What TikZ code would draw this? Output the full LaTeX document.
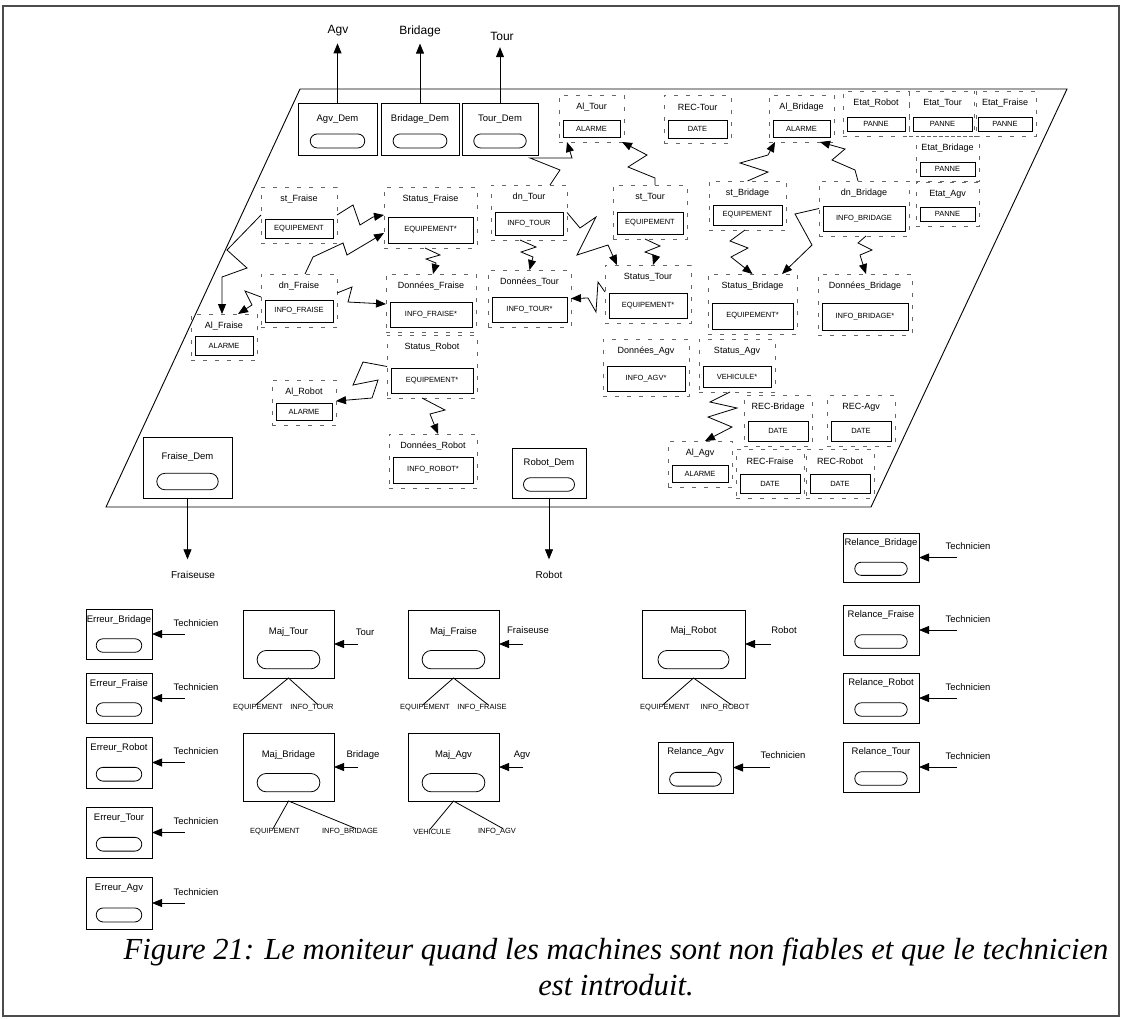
\documentclass[tikz,border=0pt]{standalone}
\usepackage{fontspec}
\setmainfont{Liberation Sans}
\newfontfamily\capfont{Liberation Serif}
\usetikzlibrary{arrows.meta,shapes.misc}

% object with a dashed frame, a title and a typed inner box
% #1 name, #2 title, #3 type, #4-#7 inner box (x1,y1,x2,y2), #8 title y
\newcommand{\objnode}[8]{%
  \pgfmathsetmacro{\ocx}{(#4+#6)/2}%
  \pgfmathsetmacro{\ocy}{(#5+#7)/2}%
  \pgfmathsetmacro{\ofy}{(#8-12+#7+5)/2}%
  \pgfmathsetmacro{\ofw}{#6-#4+8}%
  \pgfmathsetmacro{\ofh}{#7+5-#8+12}%
  \pgfmathsetmacro{\oiw}{#6-#4}%
  \pgfmathsetmacro{\oih}{#7-#5}%
  \node[frm, minimum width=\ofw pt, minimum height=\ofh pt] (#1) at (\ocx,\ofy) {};
  \node[ibox, minimum width=\oiw pt, minimum height=\oih pt] (#1-i) at (\ocx,\ocy) {#3};
  \node[otitle] (#1-t) at (\ocx,#8) {#2};
}

% process box with a title and a rounded slot
% #1 name, #2 title, #3-#6 box (x1,y1,x2,y2), #7 title offset from top
\newcommand{\procbox}[7]{%
  \pgfmathsetmacro{\pcx}{(#3+#5)/2}%
  \pgfmathsetmacro{\pcy}{(#4+#6)/2}%
  \pgfmathsetmacro{\pw}{#5-#3}%
  \pgfmathsetmacro{\ph}{#6-#4}%
  \pgfmathsetmacro{\ppw}{0.69*(#5-#3)}%
  \pgfmathsetmacro{\pph}{0.27*(#6-#4)}%
  \pgfmathsetmacro{\ppy}{#4+0.73*(#6-#4)}%
  \node[pbox, minimum width=\pw pt, minimum height=\ph pt] (#1) at (\pcx,\pcy) {};
  \node[ptitle] (#1-t) at (\pcx,#4+#7) {#2};
  \node[pill, minimum width=\ppw pt, minimum height=\pph pt] (#1-p) at (\pcx,\ppy) {};
}

% incoming message arrow on the right side of a box
% #1 box, #2 arrow length, #3 label, #4 #5 label offset from the arrow start
\newcommand{\inarrow}[5]{%
  \coordinate (#1-in) at ([xshift=#2pt]#1.east);
  \node[lbl] (#1-l) at ([xshift=#4pt,yshift=#5pt]#1-in) {#3};
  \draw[arr] (#1-in) -- (#1.east);
}

\begin{document}
\begin{tikzpicture}[x=1pt,y=-1pt,
  every node/.style={inner sep=0pt, outer sep=0pt},
  frm/.style={draw=black!60, line width=0.6pt, dash pattern=on 4pt off 8pt},
  ibox/.style={draw, line width=0.8pt, font=\fontsize{7.5}{8}\selectfont},
  otitle/.style={font=\fontsize{9}{10}\selectfont},
  pbox/.style={draw, line width=0.8pt},
  ptitle/.style={font=\fontsize{9.5}{11}\selectfont},
  pill/.style={draw, rounded rectangle, line width=0.8pt},
  lbl/.style={font=\fontsize{9.5}{11}\selectfont},
  big/.style={font=\fontsize{12}{14}\selectfont, outer sep=7pt},
  mid/.style={font=\fontsize{10}{12}\selectfont, outer sep=12pt},
  small/.style={font=\fontsize{7.5}{8}\selectfont},
  arr/.style={line width=0.8pt, -{Triangle[length=10pt,width=8pt]}},
  zz/.style={line width=0.8pt, -{Triangle[length=10pt,width=8pt]}},
]
\useasboundingbox (0,0) rectangle (1131,1018);
\draw[line width=1.2pt, black!70] (3,6) rectangle (1119,1016);

% the monitor plane
\draw[line width=0.9pt] (106,507) -- (300,89) -- (1067,89) -- (871,507) -- cycle;

% demand boxes and their outputs
\procbox{AgvDem}{Agv\_Dem}{298}{103}{377}{155}{16}
\procbox{BridageDem}{Bridage\_Dem}{381}{103}{459}{155}{16}
\procbox{TourDem}{Tour\_Dem}{462}{103}{538}{155}{16}
\procbox{FraiseDem}{Fraise\_Dem}{143}{437}{232}{498}{20}
\procbox{RobotDem}{Robot\_Dem}{512}{448}{586}{498}{15}

\node[big] (lAgv) at (338,31) {Agv};
\node[big] (lBridage) at (420,31) {Bridage};
\node[big] (lTour) at (502,36) {Tour};
\draw[arr] (AgvDem.north) -- (AgvDem.north |- lAgv.south);
\draw[arr] (BridageDem.north) -- (BridageDem.north |- lBridage.south);
\draw[arr] (TourDem.north) -- (TourDem.north |- lTour.south);

\node[mid] (lFraiseuse) at (193,575) {Fraiseuse};
\node[mid] (lRobot) at (549,575) {Robot};
\draw[arr] (FraiseDem.south) -- (FraiseDem.south |- lFraiseuse.north);
\draw[arr] (RobotDem.south) -- (RobotDem.south |- lRobot.north);

% objects of the monitor
\objnode{AlTour}{Al\_Tour}{ALARME}{563}{120}{620}{137}{107}
\objnode{RecTour}{REC-Tour}{DATE}{668}{120}{727}{138}{107}
\objnode{AlBridage}{Al\_Bridage}{ALARME}{773}{120}{830}{137}{107}
\objnode{EtatRobot}{Etat\_Robot}{PANNE}{847}{117}{905}{131}{103}
\objnode{EtatTour}{Etat\_Tour}{PANNE}{913}{117}{972}{131}{103}
\objnode{EtatFraise}{Etat\_Fraise}{PANNE}{978}{117}{1032}{131}{103}
\objnode{EtatBridage}{Etat\_Bridage}{PANNE}{920}{162}{975}{176}{148}
\objnode{EtatAgv}{Etat\_Agv}{PANNE}{920}{207}{975}{221}{194}

\objnode{stFraise}{st\_Fraise}{EQUIPEMENT}{265}{219}{333}{238}{199}
\objnode{StatusFraise}{Status\_Fraise}{EQUIPEMENT*}{388}{217}{473}{243}{199}
\objnode{dnTour}{dn\_Tour}{INFO\_TOUR}{495}{212}{563}{235}{197}
\objnode{stTour}{st\_Tour}{EQUIPEMENT}{617}{212}{683}{234}{197}
\objnode{stBridage}{st\_Bridage}{EQUIPEMENT}{713}{205}{782}{225}{193}
\objnode{dnBridage}{dn\_Bridage}{INFO\_BRIDAGE}{823}{206}{905}{231}{193}

\objnode{dnFraise}{dn\_Fraise}{INFO\_FRAISE}{265}{300}{333}{322}{286}
\objnode{DonFraise}{Données\_Fraise}{INFO\_FRAISE*}{390}{302}{472}{327}{286}
\objnode{DonTour}{Données\_Tour}{INFO\_TOUR*}{492}{297}{567}{322}{282}
\objnode{StatusTour}{Status\_Tour}{EQUIPEMENT*}{609}{293}{687}{318}{277}
\objnode{StatusBridage}{Status\_Bridage}{EQUIPEMENT*}{712}{303}{793}{329}{286}
\objnode{DonBridage}{Données\_Bridage}{INFO\_BRIDAGE*}{822}{303}{908}{330}{286}
\objnode{AlFraise}{Al\_Fraise}{ALARME}{195}{336}{253}{355}{326}

\objnode{StatusRobot}{Status\_Robot}{EQUIPEMENT*}{391}{368}{473}{393}{347}
\objnode{DonAgv}{Données\_Agv}{INFO\_AGV*}{607}{366}{685}{391}{351}
\objnode{StatusAgv}{Status\_Agv}{VEHICULE*}{703}{366}{771}{387}{351}
\objnode{AlRobot}{Al\_Robot}{ALARME}{276}{403}{332}{420}{392}
\objnode{RecBridage}{REC-Bridage}{DATE}{748}{421}{808}{441}{407}
\objnode{RecAgv}{REC-Agv}{DATE}{831}{421}{891}{441}{407}
\objnode{DonRobot}{Données\_Robot}{INFO\_ROBOT*}{393}{457}{473}{483}{446}
\objnode{AlAgv}{Al\_Agv}{ALARME}{672}{465}{728}{482}{453}
\objnode{RecFraise}{REC-Fraise}{DATE}{740}{474}{800}{493}{461}
\objnode{RecRobot}{REC-Robot}{DATE}{810}{474}{870}{493}{461}

% signal connectors between objects
\draw[zz] ([xshift=21pt]dnTour.north) -- (560,170) -- (530,158) -- (572,158) -- ([xshift=-24.5pt]AlTour.south);
\draw[zz] ([xshift=5pt]stTour.north) -- (655,178) -- (628,167) -- (647,155) -- ([xshift=30.5pt]AlTour.south);
\draw[zz] (stBridage.north) -- (768,172) -- (740,163) -- (768,155) -- ([xshift=-26.5pt]AlBridage.south);
\draw[zz] ([xshift=-6pt]dnBridage.north) -- (855,170) -- (832,160) -- (845,149) -- ([xshift=18.5pt]AlBridage.south);
\draw[zz] (stFraise.east) -- (353,205) -- (360,225) -- (373,217) -- ([yshift=2.5pt]StatusFraise.west);
\draw[zz] ([xshift=6pt]dnFraise.north) -- (313,257) -- (343,243) -- (347,255) -- ([yshift=-15.5pt]StatusFraise.west);
\draw[zz] ([yshift=7.5pt]dnFraise.east) -- (352,287) -- (348,302) -- ([yshift=-1pt]DonFraise.west);
\draw[zz] ([xshift=-5.5pt]StatusFraise.south) -- (440,255) -- (426,259) -- (436,263) -- ([xshift=2pt]DonFraise.north);
\draw[zz] (stFraise.west) -- (227,250) -- (247,268) -- (222,277) -- ([xshift=-2pt]AlFraise.north);
\draw[zz] ([yshift=3.5pt]dnFraise.west) -- (245,291) -- (252,305) -- ([xshift=14pt]AlFraise.north);
\draw[zz] ([xshift=-9pt]dnTour.south) -- (536,247) -- (521,252) -- (533,257) -- (DonTour.north);
\draw[zz] (dnTour.east) -- (580,228) -- (596,217) -- (577,255) -- (608,245) -- ([xshift=-31pt]StatusTour.north);
\draw[zz] ([xshift=-5pt]stTour.south) -- (660,246) -- (645,252) -- (656,256) -- ([xshift=5pt]StatusTour.north);
\draw[zz] ([yshift=2pt]StatusTour.west) -- (598,282) -- (596,312) -- (588,298) -- (DonTour.east);
\draw[zz] ([xshift=-2.5pt]stBridage.south) -- (730,241) -- (748,248) -- (731,257) -- (StatusBridage.north);
\draw[zz] (dnBridage.west) -- (795,214) -- (812,245) -- ([xshift=29.5pt]StatusBridage.north);
\draw[zz] ([xshift=2pt]dnBridage.south) -- (858,243) -- (872,250) -- (860,255) -- ([xshift=1pt]DonBridage.north);
\draw[zz] (StatusRobot.west) -- (363,362) -- (353,385) -- (378,380) -- (372,398) -- ([yshift=1.5pt]AlRobot.east);
\draw[zz] ([xshift=-10pt]StatusRobot.south) -- (445,410) -- (430,414) -- ([xshift=5pt]DonRobot.north);
\draw[zz] ([xshift=-7pt]StatusAgv.south) -- (710,402) -- (737,408) -- (708,417) -- (732,427) -- ([xshift=5pt]AlAgv.north);

% operations below the plane
\procbox{ErrBridage}{Erreur\_Bridage}{86}{609}{152}{659}{11}
\procbox{ErrFraise}{Erreur\_Fraise}{86}{673}{152}{723}{11}
\procbox{ErrRobot}{Erreur\_Robot}{86}{737}{152}{788}{11}
\procbox{ErrTour}{Erreur\_Tour}{86}{807}{152}{858}{11}
\procbox{ErrAgv}{Erreur\_Agv}{86}{877}{152}{929}{11}
\procbox{MajTour}{Maj\_Tour}{243}{610}{334}{678}{22}
\procbox{MajFraise}{Maj\_Fraise}{408}{610}{499}{678}{22}
\procbox{MajRobot}{Maj\_Robot}{642}{610}{745}{678}{21}
\procbox{MajBridage}{Maj\_Bridage}{243}{733}{334}{801}{22}
\procbox{MajAgv}{Maj\_Agv}{408}{733}{499}{801}{22}
\procbox{RelAgv}{Relance\_Agv}{658}{742}{733}{793}{10}
\procbox{RelBridage}{Relance\_Bridage}{843}{533}{919}{582}{10}
\procbox{RelFraise}{Relance\_Fraise}{843}{605}{919}{655}{10}
\procbox{RelRobot}{Relance\_Robot}{843}{673}{919}{723}{10}
\procbox{RelTour}{Relance\_Tour}{843}{742}{919}{792}{10}

\inarrow{ErrBridage}{33}{Technicien}{11}{11}
\inarrow{ErrFraise}{33}{Technicien}{11}{11}
\inarrow{ErrRobot}{33}{Technicien}{11}{11}
\inarrow{ErrTour}{33}{Technicien}{11}{11}
\inarrow{ErrAgv}{33}{Technicien}{11}{11}
\inarrow{MajTour}{24}{Tour}{7}{12}
\inarrow{MajFraise}{24}{Fraiseuse}{5}{14}
\inarrow{MajRobot}{26}{Robot}{13}{14}
\inarrow{MajBridage}{24}{Bridage}{5}{12}
\inarrow{MajAgv}{24}{Agv}{-1}{12}
\inarrow{RelAgv}{37}{Technicien}{13}{12}
\inarrow{RelBridage}{38}{Technicien}{11}{11}
\inarrow{RelFraise}{38}{Technicien}{11}{11}
\inarrow{RelRobot}{38}{Technicien}{11}{11}
\inarrow{RelTour}{38}{Technicien}{11}{11}

% parameters of the update operations
\node[small] (MajTour-a) at (258,708) {EQUIPEMENT};
\node[small] (MajTour-b) at (312,708) {INFO\_TOUR};
\node[small] (MajFraise-a) at (425,708) {EQUIPEMENT};
\node[small] (MajFraise-b) at (482,708) {INFO\_FRAISE};
\node[small] (MajRobot-a) at (665,708) {EQUIPEMENT};
\node[small] (MajRobot-b) at (725,708) {INFO\_ROBOT};
\node[small] (MajBridage-a) at (275,832) {EQUIPEMENT};
\node[small] (MajBridage-b) at (350,832) {INFO\_BRIDAGE};
\node[small] (MajAgv-a) at (432,832) {VEHICULE};
\node[small] (MajAgv-b) at (497,832) {INFO\_AGV};
\foreach \m in {MajTour,MajFraise,MajRobot,MajBridage,MajAgv}{
  \draw[line width=0.8pt] ([xshift=-2pt]\m-a.north) -- (\m.south) -- ([xshift=6pt]\m-b.north);
}

% caption
\node[font=\capfont\itshape\fontsize{30.6}{36}\selectfont, align=center] (cap) at (616,967)
  {Figure 21: Le moniteur quand les machines sont non fiables et que le technicien\\est introduit.};
\end{tikzpicture}
\end{document}
